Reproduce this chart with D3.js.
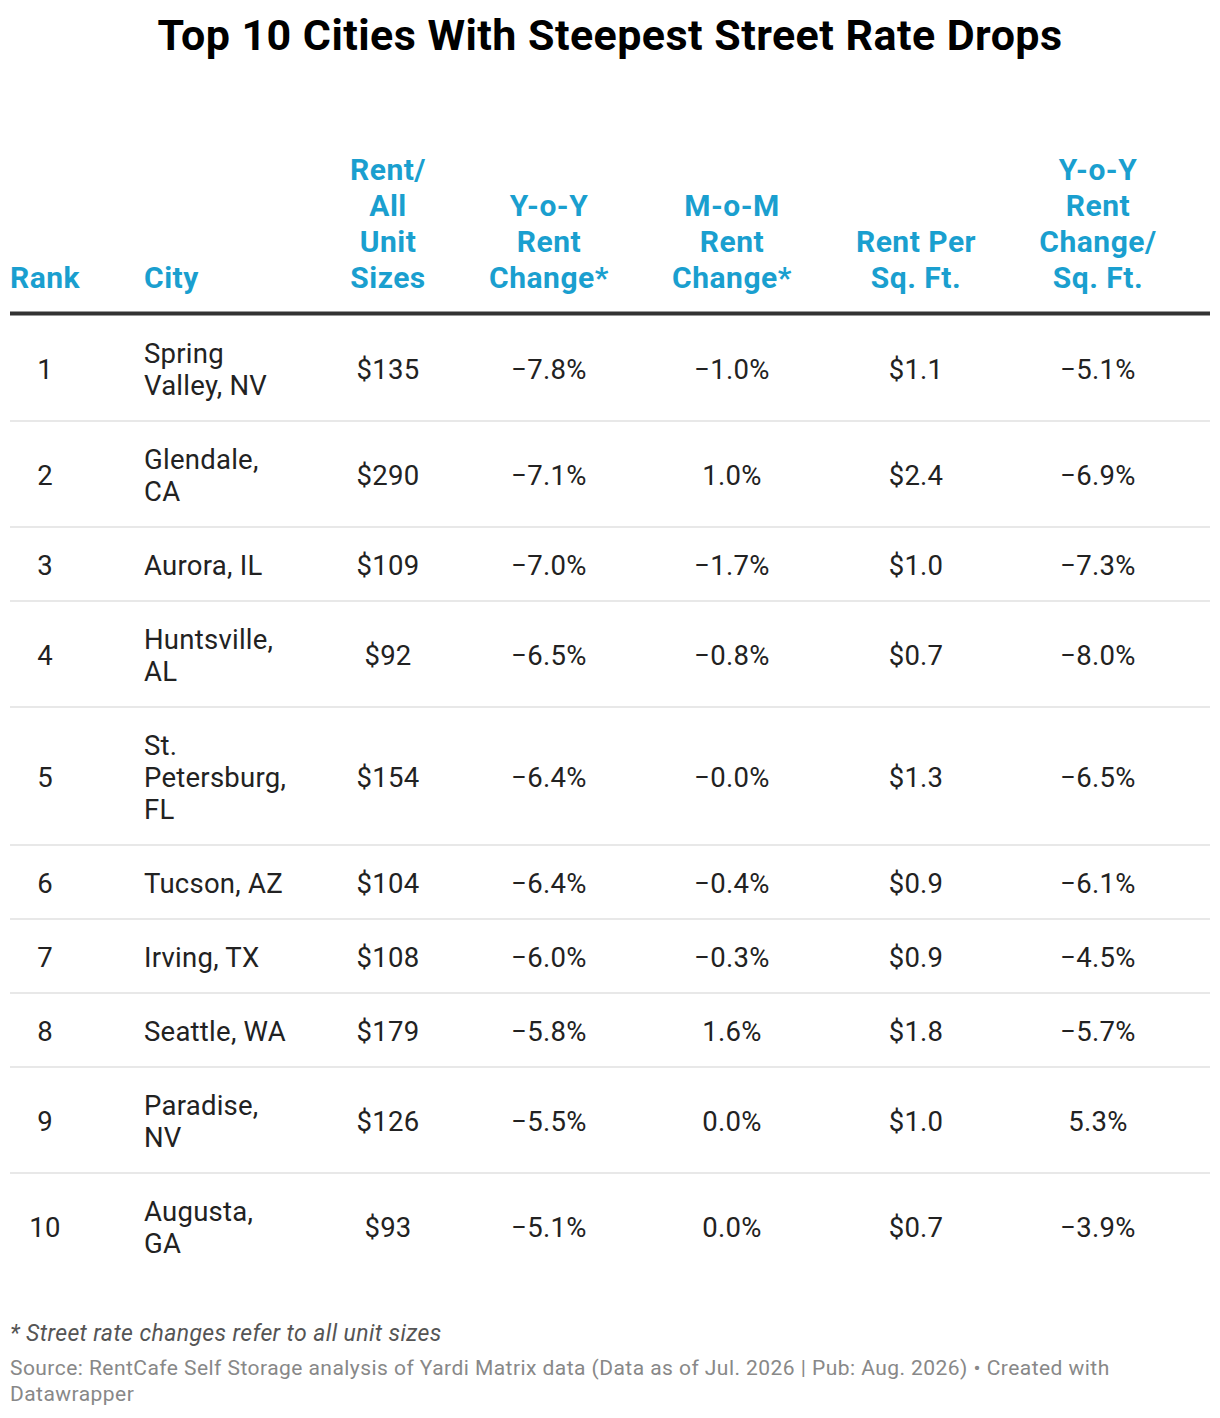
<!DOCTYPE html>
<html><head><meta charset="utf-8">
<script src="https://cdn.jsdelivr.net/npm/d3@7"></script>
<style>
html,body{margin:0;padding:0;background:#fff;}
svg{display:block;font-family:Roboto,"Noto Sans",sans-serif;}
</style></head>
<body>
<svg id="chart" width="1220" height="1418"></svg>
<script>
const titleText = "Top 10 Cities With Steepest Street Rate Drops";
const columnKeys = ["rank","city","rent","yoy","mom","sqft","yoysqft"];
const headerLines = [
  ["Rank"],
  ["City"],
  ["Rent/","All","Unit","Sizes"],
  ["Y-o-Y","Rent","Change*"],
  ["M-o-M","Rent","Change*"],
  ["Rent Per","Sq. Ft."],
  ["Y-o-Y","Rent","Change/","Sq. Ft."]
];
const ranks = [1,2,3,4,5,6,7,8,9,10];
const cities = ["Spring Valley, NV","Glendale, CA","Aurora, IL","Huntsville, AL","St. Petersburg, FL","Tucson, AZ","Irving, TX","Seattle, WA","Paradise, NV","Augusta, GA"];
const rentAll = [135,290,109,92,154,104,108,179,126,93];
const yoyChange = [-7.8,-7.1,-7.0,-6.5,-6.4,-6.4,-6.0,-5.8,-5.5,-5.1];
const momChange = ["-1.0","1.0","-1.7","-0.8","-0.0","-0.4","-0.3","1.6","0.0","0.0"];
const rentPerSqFt = [1.1,2.4,1.0,0.7,1.3,0.9,0.9,1.8,1.0,0.7];
const yoySqFt = [-5.1,-6.9,-7.3,-8.0,-6.5,-6.1,-4.5,-5.7,5.3,-3.9];
const noteText = "* Street rate changes refer to all unit sizes";
const sourceLines = ["Source: RentCafe Self Storage analysis of Yardi Matrix data (Data as of Jul. 2026 | Pub: Aug. 2026) • Created with","Datawrapper"];

const W = 1220;
const svg = d3.select("#chart");
const blue = "#1a9fcf";
const bodySize = 27.5, bodySpacing = 0.25, lineH = 32, padV = 21;

const minus = s => String(s).replace("-", "\u2212");
const pct = v => minus(v.toFixed(1)) + "%";

const rows = ranks.map((r,i)=>({
  rank: String(r),
  city: cities[i],
  rent: "$" + rentAll[i],
  yoy: pct(yoyChange[i]),
  mom: minus(momChange[i]) + "%",
  sqft: "$" + rentPerSqFt[i].toFixed(1),
  yoysqft: pct(yoySqFt[i])
}));

const colX = d3.scaleOrdinal().domain(columnKeys).range([45,144,388,549,732,916,1098]);
const colAnchor = d3.scaleOrdinal().domain(columnKeys).range(["middle","start","middle","middle","middle","middle","middle"]);

// title
svg.append("text").attr("x", W/2).attr("y", 50).attr("text-anchor","middle")
  .attr("font-size", 43).attr("letter-spacing", 0.45).attr("font-weight", 700).attr("fill","#000").text(titleText);

// header
const headerBase = 288, headerLH = 36;
columnKeys.forEach((k,ci)=>{
  const lines = headerLines[ci];
  const t = svg.append("text").attr("text-anchor", k==="rank" ? "start" : colAnchor(k))
    .attr("font-size", 30).attr("letter-spacing", 0.5).attr("font-weight", 700).attr("fill", blue);
  lines.forEach((ln,li)=>{
    t.append("tspan").attr("x", k==="rank" ? 10 : colX(k))
      .attr("y", headerBase - (lines.length-1-li)*headerLH).text(ln);
  });
});
svg.append("rect").attr("x",10).attr("y",311.5).attr("width",1200).attr("height",4).attr("fill","#333");

// measure wrap
const measure = svg.append("text").attr("font-size", bodySize).attr("letter-spacing", bodySpacing).attr("visibility","hidden");
function wrap(str, maxW){
  const words = str.split(" ");
  const out = []; let cur = "";
  words.forEach(w=>{
    const test = cur ? cur + " " + w : w;
    measure.text(test);
    if (cur && measure.node().getComputedTextLength() > maxW) { out.push(cur); cur = w; }
    else cur = test;
  });
  if (cur) out.push(cur);
  return out;
}
rows.forEach(r=>{ r.cityLines = wrap(r.city, 148); });
measure.remove();

let y = 315;
rows.forEach((r,i)=>{
  const n = r.cityLines.length;
  const h = 2*padV + n*lineH;
  const mid = y + h/2;
  const base = mid + 10.5;
  columnKeys.forEach(k=>{
    const t = svg.append("text").attr("text-anchor", colAnchor(k)).attr("font-size", bodySize)
      .attr("letter-spacing", bodySpacing).attr("fill","#222");
    if (k==="city") {
      r.cityLines.forEach((ln,li)=>{
        t.append("tspan").attr("x", colX(k)).attr("y", base + (li-(n-1)/2)*lineH).text(ln);
      });
    } else {
      t.attr("x", colX(k)).attr("y", base).text(r[k]);
    }
  });
  y += h;
  if (i < rows.length-1) {
    svg.append("rect").attr("x",10).attr("y",y-1).attr("width",1200).attr("height",2).attr("fill","#e8e8e8");
  }
});

// footer
svg.append("text").attr("x",10).attr("y",1341).attr("font-size",23).attr("letter-spacing",0.4).attr("font-style","italic")
  .attr("fill","#555").text(noteText);
const src = svg.append("text").attr("font-size",21).attr("letter-spacing",0.45).attr("fill","#888");
sourceLines.forEach((ln,i)=>{
  src.append("tspan").attr("x",10).attr("y",1375 + i*26).text(ln);
});
</script>
</body></html>
